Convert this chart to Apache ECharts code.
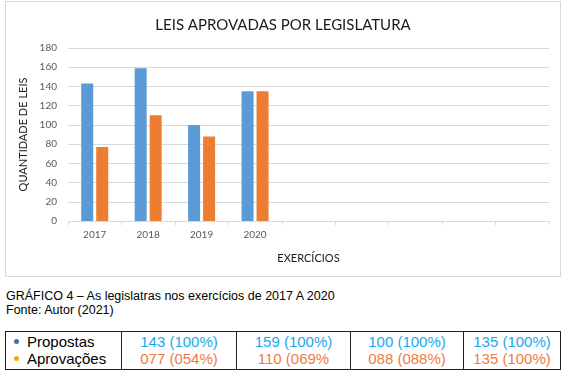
<!DOCTYPE html>
<html>
<head>
<meta charset="utf-8">
<script src="https://cdn.jsdelivr.net/npm/echarts@6/dist/echarts.min.js"></script>
<style>
  html, body { margin: 0; padding: 0; background: #fff; }
  #wrap { position: relative; width: 566px; height: 373px; overflow: hidden; }
  #chart { position: absolute; left: 0; top: 0; width: 566px; height: 280px; }
  #frame { position: absolute; left: 5px; top: 1px; width: 554px; height: 274px; border: 1px solid #d9d9d9; box-sizing: content-box; pointer-events: none; }
  .cap { position: absolute; left: 6px; font-family: "Liberation Sans", Arial, sans-serif; font-size: 12.5px; color: #000; white-space: nowrap; line-height: 14px; }
  #tbl { position: absolute; left: 5px; top: 331px; border-collapse: collapse; font-family: "Liberation Sans", Arial, sans-serif; font-size: 15px; }
  #tbl td { border: 1px solid #222; padding: 2px 0 2px 0; line-height: 16.5px; vertical-align: middle; white-space: nowrap; }
  #tbl td.val { text-align: center; }
  #tbl td.lab { padding-left: 8px; }
  .dot { display: inline-block; width: 5px; height: 5px; border-radius: 50%; margin-right: 8px; vertical-align: 3px; }
</style>
</head>
<body>
<div id="wrap">
  <div id="chart"></div>
  <div id="frame"></div>
  <div class="cap" id="cap1" style="top:289px"></div>
  <div class="cap" id="cap2" style="top:303px"></div>
  <table id="tbl"><tr id="row"></tr></table>
</div>
<script>
// ---- data ----
const categories = ['2017', '2018', '2019', '2020', '', '', '', '', ''];
const propostas = [143, 159, 100, 135];
const aprovacoes = [77, 110, 88, 135];
const seriesNames = ['Propostas', 'Aprovações'];
const propostasText = ['143 (100%)', '159 (100%)', '100 (100%)', '135 (100%)'];
const aprovacoesText = ['077 (054%)', '110 (069%', '088 (088%)', '135 (100%)'];
const titleText = 'LEIS APROVADAS POR LEGISLATURA';
const yName = 'QUANTIDADE DE LEIS';
const xName = 'EXERCÍCIOS';
const caption1 = 'GRÁFICO 4 – As legislatras nos exercícios de 2017 A 2020';
const caption2 = 'Fonte: Autor (2021)';

// ---- colors ----
const blue = '#5b9bd5', orange = '#ed7d31';
const font = 'Lato, "Open Sans", sans-serif';

const chart = echarts.init(document.getElementById('chart'), null, { renderer: 'canvas' });
chart.setOption({
  animation: false,
  title: {
    text: titleText, left: 'center', top: 13,
    textStyle: { fontFamily: font, fontSize: 15, fontWeight: 'normal', color: '#1a1a1a' }
  },
  grid: { left: 68, right: 17, top: 48, height: 173 },
  xAxis: {
    type: 'category', data: categories,
    name: xName, nameLocation: 'middle', nameGap: 32,
    nameTextStyle: { fontFamily: font, fontSize: 11, color: '#1a1a1a' },
    axisLine: { lineStyle: { color: '#d9d9d9' } },
    axisTick: { show: true, length: 4, lineStyle: { color: '#d9d9d9' } },
    axisLabel: { fontFamily: font, fontSize: 10, color: '#595959', margin: 9 }
  },
  yAxis: {
    type: 'value', min: 0, max: 180, interval: 20,
    name: yName, nameLocation: 'middle', nameGap: 38,
    nameTextStyle: { fontFamily: font, fontSize: 11, color: '#1a1a1a' },
    axisLine: { show: false }, axisTick: { show: false },
    splitLine: { lineStyle: { color: '#d9d9d9' } },
    axisLabel: { fontFamily: font, fontSize: 10, color: '#595959', margin: 11 }
  },
  series: [
    { name: seriesNames[0], type: 'bar', data: propostas, barWidth: 12, barGap: '25%',
      itemStyle: { color: blue } },
    { name: seriesNames[1], type: 'bar', data: aprovacoes, barWidth: 12, barGap: '25%',
      itemStyle: { color: orange } }
  ]
});

// ---- caption & table ----
document.getElementById('cap1').textContent = caption1;
document.getElementById('cap2').textContent = caption2;
const colW = [115, 114, 113, 112, 96];
const row = document.getElementById('row');
const first = document.createElement('td');
first.className = 'lab';
first.style.width = (colW[0] - 8) + 'px';
first.innerHTML = '<span class="dot" style="background:#3b6fc2"></span>' + seriesNames[0] +
  '<br><span class="dot" style="background:#ffa500"></span>' + seriesNames[1];
row.appendChild(first);
for (let i = 0; i < propostasText.length; i++) {
  const td = document.createElement('td');
  td.className = 'val';
  td.style.width = colW[i + 1] + 'px';
  td.innerHTML = '<span style="color:#1aa7ec">' + propostasText[i] + '</span><br>' +
    '<span style="color:#f07b3f">' + aprovacoesText[i] + '</span>';
  row.appendChild(td);
}
</script>
</body>
</html>
